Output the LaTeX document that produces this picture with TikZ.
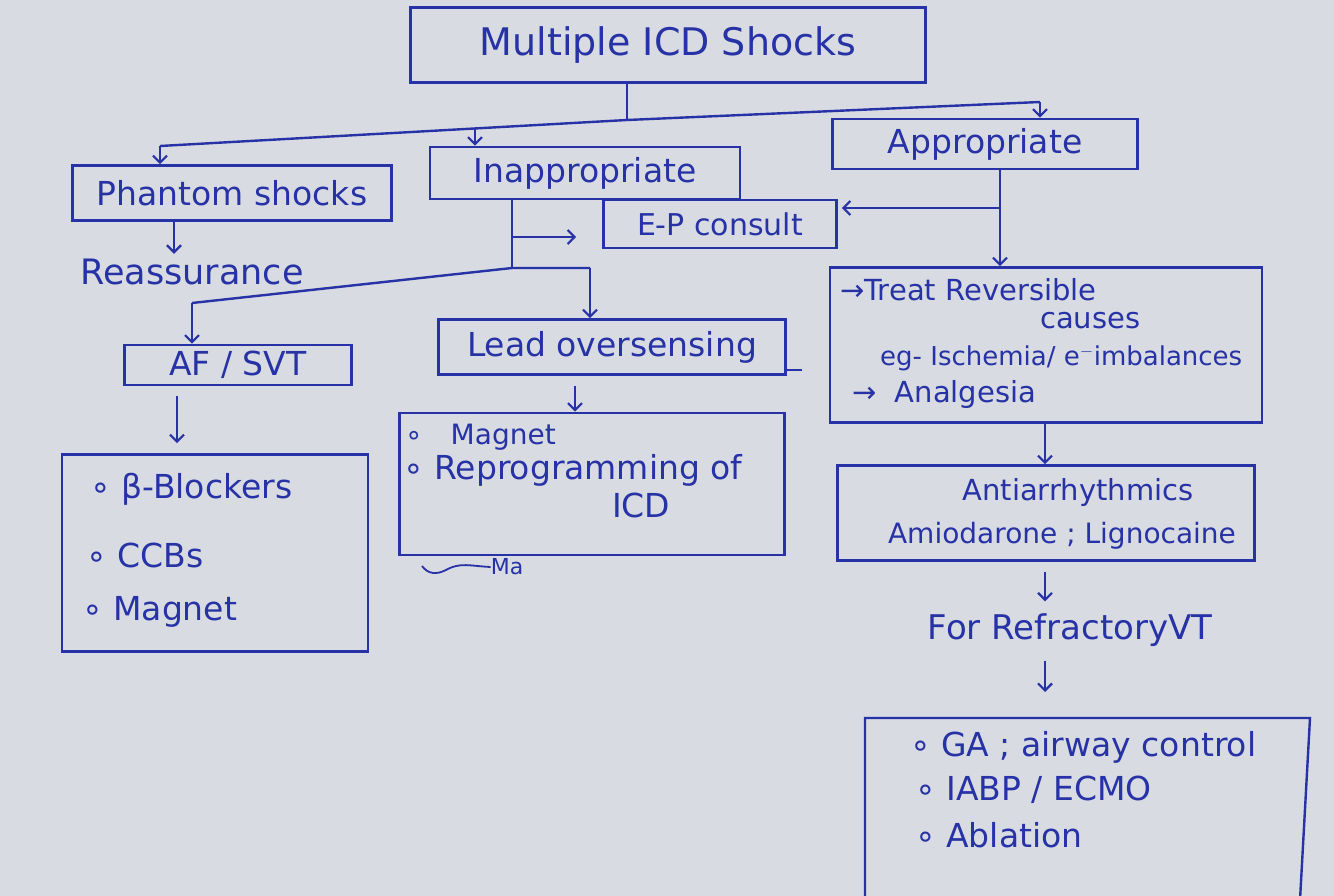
\documentclass[tikz,border=0pt]{standalone}
\usepackage{fontspec}
\setmainfont{DejaVu Sans}
\usetikzlibrary{arrows.meta}
\definecolor{ink}{RGB}{38,50,165}
\definecolor{paper}{RGB}{216,219,226}
\newcommand{\fs}[1]{\fontsize{#1}{#1}\selectfont}
\tikzset{
  box/.style={draw=ink, line width=2.6pt, inner sep=0pt, text=ink, font=\fs{33}},
  lbl/.style={text=ink, inner sep=0pt, font=\fs{33}},
  line/.style={text=ink, inner sep=0pt, anchor=west},
  conn/.style={draw=ink, line width=2.4pt},
  arr/.style={conn, -{Straight Barb[length=7pt,width=14pt,line width=2.2pt]}},
}
\begin{document}
\begin{tikzpicture}[x=1pt,y=-1pt]
\fill[paper] (0,0) rectangle (1334,896);
\useasboundingbox (0,0) rectangle (1334,896);

% top-level boxes
\node[box, minimum width=515pt, minimum height=75pt, font=\fs{38}] (title) at (668,45) {Multiple ICD Shocks};
\node[box, minimum width=319pt, minimum height=55pt] (phantom) at (232,193) {Phantom shocks};
\node[box, minimum width=310pt, minimum height=52pt] (inapp) at (585,173) {Inappropriate};
\node[box, minimum width=305pt, minimum height=50pt] (approp) at (985,144) {Appropriate};
\node[lbl, font=\fs{35}] (reass) at (192,272) {Reassurance};
\node[box, minimum width=233pt, minimum height=48pt, font=\fs{30}] (ep) at (720,224) {E-P consult};
\node[box, minimum width=227pt, minimum height=40pt] (afsvt) at (238,365) {AF / SVT};
\node[box, minimum width=347pt, minimum height=55pt] (lead) at (612,347) {Lead oversensing};

% B-blockers box
\node[box, minimum width=306pt, minimum height=197pt] (bb) at (215,553) {};
\node[line, font=\fs{33}] (bb1) at (90,489) {∘ β-Blockers};
\node[line, font=\fs{33}] (bb2) at (86,555) {∘ CCBs};
\node[line, font=\fs{33}] (bb3) at (82,612) {∘ Magnet};

% Magnet / reprogramming box
\node[box, minimum width=385pt, minimum height=142pt] (mag) at (592,484) {};
\node[line, font=\fs{28}] (m1) at (405,437) {∘\hspace{28pt}Magnet};
\node[line, font=\fs{33}] (m2) at (403,470) {∘ Reprogramming of};
\node[line, font=\fs{33}] (m3) at (612,505) {ICD};
\node[lbl, font=\fs{22}] (scrib) at (507,567) {Ma};

% Treat reversible causes
\node[box, minimum width=432pt, minimum height=155pt] (treat) at (1046,345) {};
\node[line, font=\fs{29}] (t1) at (840,290) {→Treat Reversible};
\node[line, font=\fs{29}] (t2) at (1040,321) {causes};
\node[line, font=\fs{26}] (t3) at (880,358) {eg- Ischemia/ e$^{-}$imbalances};
\node[line, font=\fs{29}] (t4) at (852,394) {→ \ Analgesia};

% Antiarrhythmics
\node[box, minimum width=417pt, minimum height=95pt] (anti) at (1046,513) {};
\node[lbl, font=\fs{29}] (a1t) at (1078,492) {Antiarrhythmics};
\node[lbl, font=\fs{28}] (a2t) at (1062,536) {Amiodarone ; Lignocaine};

\node[lbl, font=\fs{34}] (refr) at (1070,630) {For RefractoryVT};

% final open box
\coordinate (ftl) at (865,718);
\coordinate (ftr) at (1310,718);
\coordinate (fbl) at (865,900);
\coordinate (fbr) at (1300,900);
\draw[conn] (fbl) -- (ftl) -- (ftr) -- (fbr);
\node[line, font=\fs{33}] (f1) at (910,747) {∘ GA ; airway control};
\node[line, font=\fs{33}] (f2) at (915,790) {∘ IABP / ECMO};
\node[line, font=\fs{33}] (f3) at (915,835) {∘ Ablation};

% connectors from title
\coordinate (hub) at (627,120);
\coordinate (L) at (160,146);
\coordinate (M) at (475,128);
\coordinate (R) at (1040,102);
\draw[conn] (title.south -| hub) -- (hub);
\draw[conn] (L) -- (hub) -- (R);
\draw[arr] (L) -- (phantom.north -| L);
\draw[arr] (M) -- (inapp.north -| M);
\draw[arr] (R) -- (approp.north -| R);

% phantom
\draw[arr] (phantom.south -| 174,0) -- ([yshift=5pt]reass.north -| 174,0);

% appropriate
\coordinate (a1) at (1000,208);
\draw[arr] (approp.south -| a1) -- (treat.north -| a1);
\draw[arr, shorten >=4pt] (a1) -- (ep.east |- a1);

% inappropriate
\coordinate (i1) at (512,237);
\coordinate (i2) at (512,268);
\coordinate (bl) at (192,303);
\coordinate (br) at (590,268);
\draw[conn] (inapp.south -| i1) -- (i2);
\draw[arr, shorten >=26pt] (i1) -- (ep.west |- i1);
\draw[conn] (bl) -- (i2) -- (br);
\draw[arr] (bl) -- (afsvt.north -| bl);
\draw[arr] (br) -- (lead.north -| br);
\draw[conn] (lead.south east) ++(-2,-6) -- ++(17,0);

% lower
\draw[arr, shorten <=10pt, shorten >=10pt] (afsvt.south -| 177,0) -- (bb.north -| 177,0);
\draw[arr, shorten <=10pt] (lead.south -| 575,0) -- (mag.north -| 575,0);
\draw[arr] (treat.south -| 1045,0) -- (anti.north -| 1045,0);
\draw[arr, shorten <=10pt, shorten >=12pt] (anti.south -| 1045,0) -- (refr.north -| 1045,0);
\draw[arr, shorten <=14pt, shorten >=26pt] (refr.south -| 1045,0) -- (ftl -| 1045,0);
\draw[ink, line width=1.8pt] (422,566) .. controls (428,574) and (436,575) .. (446,570) .. controls (460,562) and (470,566) .. (scrib.west);
\end{tikzpicture}
\end{document}
